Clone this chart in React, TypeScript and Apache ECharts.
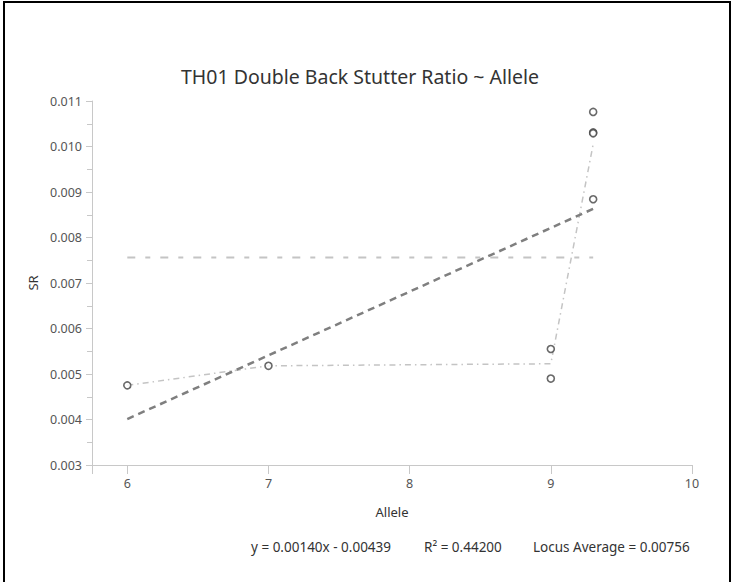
import React, { useEffect, useRef } from "react";
import * as echarts from "echarts";

const titleText = "TH01 Double Back Stutter Ratio ~ Allele";
const alleles = [6, 7, 9, 9, 9.3, 9.3, 9.3, 9.3];
const ratios = [0.00475, 0.00518, 0.00555, 0.0049, 0.01076, 0.01031, 0.01029, 0.00884];
const xTicks = [6, 7, 8, 9, 10];
const slope = 0.0014;
const intercept = -0.00439;
const rSquared = 0.442;
const locusAverage = 0.00756;

export default function App() {
  const ref = useRef<HTMLDivElement>(null);
  useEffect(() => {
    if (!ref.current) return;
    const chart = echarts.init(ref.current, undefined, { renderer: "svg" });
    const pts = alleles.map((a, i) => [a, ratios[i]]);
    const uniq = Array.from(new Set(alleles)).sort((a, b) => a - b);
    const means = uniq.map((u) => {
      const vals = ratios.filter((_, i) => alleles[i] === u);
      return [u, vals.reduce((s, v) => s + v, 0) / vals.length];
    });
    const xMinData = uniq[0];
    const xMaxData = uniq[uniq.length - 1];
    const reg = [
      [xMinData, slope * xMinData + intercept],
      [xMaxData, slope * xMaxData + intercept],
    ];
    const avgLine = [
      [xMinData, locusAverage],
      [xMaxData, locusAverage],
    ];
    const font = "Noto Sans";
    chart.setOption({
      animation: false,
      title: {
        text: titleText,
        left: 176,
        top: 61,
        textStyle: { fontFamily: font, fontSize: 19.5, fontWeight: "normal", color: "#333" },
      },
      grid: { left: 92, right: 39, top: 101, bottom: 117 },
      xAxis: {
        type: "value",
        min: 5.75,
        max: 10,
        name: "Allele",
        nameLocation: "middle",
        nameGap: 40,
        nameTextStyle: { fontFamily: font, fontSize: 13, color: "#333" },
        axisLine: { show: true, lineStyle: { color: "#c8c8c8", width: 1 } },
        axisTick: { show: true, length: 9, customValues: [5.75, ...xTicks], lineStyle: { color: "#c8c8c8" } },
        axisLabel: { customValues: xTicks, fontFamily: font, fontSize: 12.5, color: "#555", margin: 12 },
        splitLine: { show: false },
      },
      yAxis: {
        type: "value",
        min: 0.003,
        max: 0.011,
        interval: 0.001,
        name: "SR",
        nameLocation: "middle",
        nameGap: 51,
        nameTextStyle: { fontFamily: font, fontSize: 13, color: "#333" },
        axisLine: { show: true, lineStyle: { color: "#c8c8c8", width: 1 } },
        axisTick: { show: true, length: 6, lineStyle: { color: "#c8c8c8" } },
        minorTick: { show: true, splitNumber: 2, length: 5, lineStyle: { color: "#c8c8c8" } },
        axisLabel: {
          fontFamily: font,
          fontSize: 12.5,
          color: "#555",
          margin: 10,
          formatter: (v: number) => v.toFixed(3),
        },
        splitLine: { show: false },
      },
      series: [
        {
          type: "line",
          data: avgLine,
          symbol: "none",
          lineStyle: { color: "#c4c4c4", width: 2, type: [8, 10, 5, 10] },
          z: 1,
        },
        {
          type: "line",
          data: means,
          symbol: "none",
          lineStyle: { color: "#c4c4c4", width: 1.5, type: [6, 4, 1.5, 4] },
          z: 2,
        },
        {
          type: "line",
          data: reg,
          symbol: "none",
          lineStyle: { color: "#7f7f7f", width: 2.5, type: [7, 5] },
          z: 3,
        },
        {
          type: "scatter",
          data: pts,
          symbol: "circle",
          symbolSize: 7,
          itemStyle: { color: "#fff", borderColor: "#444", borderWidth: 1.6 },
          z: 4,
        },
      ],
      graphic: [
        {
          type: "text",
          left: 251,
          top: 540,
          style: { text: `y = ${slope.toFixed(5)}x - ${Math.abs(intercept).toFixed(5)}`, fontFamily: font, fontSize: 13.5, fill: "#333" },
        },
        {
          type: "text",
          left: 424,
          top: 540,
          style: { text: `R² = ${rSquared.toFixed(5)}`, fontFamily: font, fontSize: 13.5, fill: "#333" },
        },
        {
          type: "text",
          left: 533,
          top: 540,
          style: { text: `Locus Average = ${locusAverage.toFixed(5)}`, fontFamily: font, fontSize: 13.5, fill: "#333" },
        },
      ],
    });
    return () => chart.dispose();
  }, []);
  return (
    <div style={{ position: "fixed", left: 0, top: 0, width: 731, height: 582, background: "#fff" }}>
      <div ref={ref} style={{ position: "absolute", left: 0, top: 0, width: 731, height: 582 }} />
      <div
        style={{
          position: "absolute",
          left: 3,
          top: 1,
          width: 728,
          height: 590,
          boxSizing: "border-box",
          borderLeft: "2px solid #000",
          borderTop: "2px solid #000",
          borderRight: "2px solid #000",
          pointerEvents: "none",
        }}
      />
    </div>
  );
}
